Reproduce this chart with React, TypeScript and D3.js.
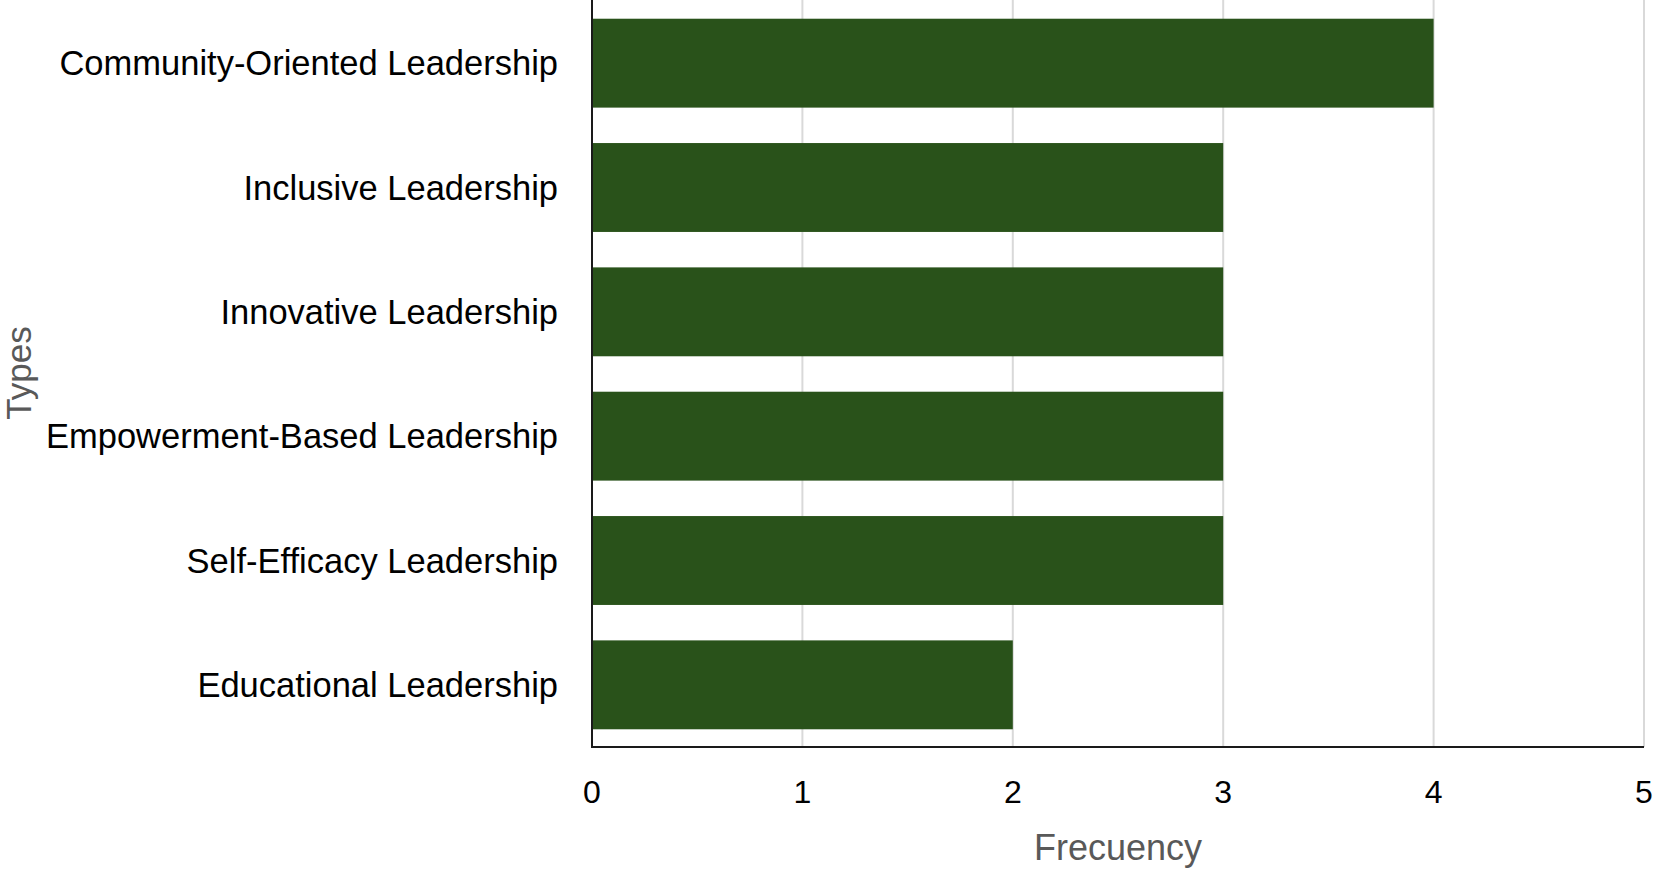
import React, { useMemo } from 'react';
import * as d3 from 'd3';

const categories = [
  'Community-Oriented Leadership',
  'Inclusive Leadership',
  'Innovative Leadership',
  'Empowerment-Based Leadership',
  'Self-Efficacy Leadership',
  'Educational Leadership',
];
const frequencies = [4, 3, 3, 3, 3, 2];
const xTicks = [0, 1, 2, 3, 4, 5];

const width = 1654;
const height = 872;
const margin = { top: 1, right: 10, bottom: 125, left: 592 };
const font = '"Liberation Sans", Arial, sans-serif';

const App: React.FC = () => {
  const xScale = useMemo(
    () => d3.scaleLinear().domain([0, 5]).range([margin.left, width - margin.right]),
    []
  );
  const yScale = useMemo(
    () =>
      d3
        .scaleBand<string>()
        .domain(categories)
        .range([margin.top, height - margin.bottom])
        .paddingInner(0.285)
        .paddingOuter(0.1425),
    []
  );

  const plotBottom = height - margin.bottom;

  return (
    <div style={{ position: 'fixed', left: 0, top: 0 }}>
      <svg width={width} height={height} style={{ background: '#fff', display: 'block' }}>
        {/* gridlines */}
        {xTicks.slice(1).map(t => (
          <line
            key={`g-${t}`}
            x1={xScale(t)}
            x2={xScale(t)}
            y1={0}
            y2={plotBottom}
            stroke="#d9d9d9"
            strokeWidth={2}
          />
        ))}

        {/* bars */}
        {categories.map((c, i) => (
          <rect
            key={c}
            x={xScale(0)}
            y={yScale(c)}
            width={xScale(frequencies[i]) - xScale(0)}
            height={yScale.bandwidth()}
            fill="#29521a"
          />
        ))}

        {/* axes */}
        <line x1={xScale(0)} x2={xScale(0)} y1={0} y2={plotBottom} stroke="#1a1a1a" strokeWidth={2} />
        <line x1={xScale(0) - 1} x2={xScale(5)} y1={plotBottom} y2={plotBottom} stroke="#1a1a1a" strokeWidth={2} />

        {/* category labels */}
        {categories.map(c => (
          <text
            key={`l-${c}`}
            x={558}
            y={(yScale(c) ?? 0) + yScale.bandwidth() / 2 + 12}
            textAnchor="end"
            fontFamily={font}
            fontSize={34.5}
            fill="#000"
          >
            {c}
          </text>
        ))}

        {/* x tick labels */}
        {xTicks.map(t => (
          <text
            key={`t-${t}`}
            x={xScale(t)}
            y={803}
            textAnchor="middle"
            fontFamily={font}
            fontSize={32}
            fill="#000"
          >
            {t}
          </text>
        ))}

        {/* axis titles */}
        <text
          x={(xScale(0) + xScale(5)) / 2}
          y={860}
          textAnchor="middle"
          fontFamily={font}
          fontSize={36}
          fill="#595959"
        >
          Frecuency
        </text>
        <text
          transform={`translate(31, 373) rotate(-90)`}
          textAnchor="middle"
          fontFamily={font}
          fontSize={35}
          fill="#595959"
        >
          Types
        </text>
      </svg>
    </div>
  );
};

export default App;
